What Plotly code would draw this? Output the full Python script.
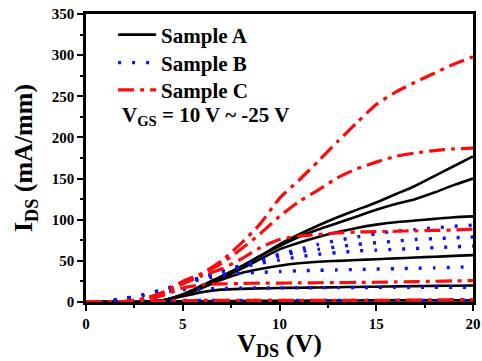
import plotly.graph_objects as go

# Drain voltage grid (V)
vds = list(range(0, 21))

# Sample A (black solid), one curve per gate voltage step
sample_a = [
    [0, 0, 0, 0.3, 2, 9, 20, 31, 43, 56, 70, 82, 93, 103, 112, 121, 131, 141, 153, 165, 177],
    [0, 0, 0, 0.3, 2, 9, 20, 31, 43, 56, 68, 79, 88, 96, 104, 112, 119, 125, 133, 142, 150],
    [0, 0, 0, 0.3, 2, 9, 19, 29, 40, 52, 64, 72, 79, 85, 90, 94, 97, 99, 101, 103, 104],
    [0, 0, 0, 0.3, 2, 8, 17, 27, 35, 40, 44, 47, 49, 50, 51, 52, 53, 54, 55, 56, 57],
    [0, 0, 0, 0.3, 2, 7, 12, 15, 16, 16.5, 17, 17.3, 17.6, 18, 18.3, 18.6, 19, 19.3, 19.6, 19.8, 20],
    [0, 0, 0, 0, 0.5, 1, 1, 1.2, 1.3, 1.4, 1.5, 1.6, 1.7, 1.8, 1.9, 2, 2, 2, 2, 2, 2],
]

# Sample B (blue dotted)
sample_b = [
    [0, 0.5, 4, 9, 15, 23, 30, 37, 44, 51, 58, 64, 70, 75, 79, 83, 86, 88, 90, 92, 93.5],
    [0, 0.5, 4, 9, 15, 23, 30, 37, 44, 50, 56, 61, 64, 67, 70, 72, 74, 76, 77, 78, 79],
    [0, 0.5, 4, 9, 15, 23, 30, 36, 42, 47, 51, 55, 58, 60, 62, 63, 64, 65, 66, 67, 68],
    [0, 0.5, 4, 9, 15, 22, 28, 32, 35, 36, 37, 38, 38.5, 39, 39.5, 40, 40.5, 41, 41.5, 42, 43],
    [0, 0.5, 4, 8, 12, 15, 16, 16.5, 17, 17, 17.2, 17.3, 17.4, 17.5, 17.6, 17.7, 17.8, 17.9, 18, 18, 18],
    [0, 0.3, 1, 1.5, 2, 2, 2, 2, 2, 2, 2, 2, 2, 2, 2, 2, 2, 2, 2, 2, 2],
]

# Sample C (red dash-dot)
sample_c = [
    [0, 0, 0.5, 4, 12, 25, 35, 50, 71, 95, 126, 148, 171, 195, 218, 240, 255, 267, 278, 289, 298],
    [0, 0, 0.5, 4, 12, 24, 34, 47, 64, 83, 104, 122, 136, 151, 162, 170, 177, 181, 184, 186, 187],
    [0, 0, 0.5, 4, 11, 22, 32, 40, 52, 66, 76, 80, 82, 84, 85, 85.5, 86, 86.5, 87, 87.5, 88.5],
    [0, 0, 0.5, 3, 8, 17, 21, 22, 22.5, 23, 23, 23.2, 23.4, 23.6, 23.8, 24, 24.4, 24.8, 25.2, 25.6, 26],
    [0, 0, 0, 0.5, 1, 1.5, 2, 2, 2, 2, 2, 2, 2, 2, 2, 2, 2.2, 2.4, 2.6, 2.8, 3],
]

series_names = ["Sample A", "Sample B", "Sample C"]
x_ticks = [0, 5, 10, 15, 20]
y_ticks = [0, 50, 100, 150, 200, 250, 300, 350]

SERIF = "Liberation Serif"
styles = [
    dict(color="black", width=2.6, dash="solid"),
    dict(color="#0a14f0", width=3.4, dash="3px,11px"),
    dict(color="#ff0a0a", width=3.2, dash="16px,6px,4px,6px"),
]
legend_ids = ["legend", "legend2", "legend3"]
legend_rows = [0.927, 0.83, 0.735]

fig = go.Figure()
for name, curves, st, lg in zip(series_names, [sample_a, sample_b, sample_c], styles, legend_ids):
    for i, ys in enumerate(curves):
        fig.add_trace(go.Scatter(
            x=vds, y=ys, mode="lines", name="<b>%s</b>" % name, legendgroup=name, legend=lg,
            showlegend=(i == 0), line=dict(shape="spline", smoothing=0.6, **st),
        ))

axis_common = dict(
    showline=True, linecolor="black", linewidth=2.6, mirror=True,
    ticks="outside", ticklen=6, tickwidth=2, tickcolor="black",
    showgrid=False, zeroline=False, automargin=False, ticklabeloverflow="allow",
    tickfont=dict(family=SERIF, size=15, color="black"),
)

fig.update_xaxes(
    range=[0, 20], tickvals=x_ticks, ticktext=["<b>%d</b>" % v for v in x_ticks],
    minor=dict(ticks="outside", ticklen=3.5, tickwidth=2, tickcolor="black", dtick=2.5, showgrid=False),
    title=dict(text="<b>V<sub>DS</sub> (V)</b>", font=dict(family=SERIF, size=26, color="black"), standoff=7),
    **axis_common,
)
fig.update_yaxes(
    range=[0, 350], tickvals=y_ticks, ticktext=["<b>%d</b>" % v for v in y_ticks],
    minor=dict(ticks="outside", ticklen=3.5, tickwidth=2, tickcolor="black", dtick=25, showgrid=False),
    title=dict(text="<b>I<sub>DS</sub> (mA/mm)</b>", font=dict(family=SERIF, size=26, color="black"), standoff=12),
    **axis_common,
)

fig.add_annotation(
    xref="paper", yref="paper", x=0.088, y=0.645, xanchor="left", yanchor="middle",
    text="<b>V<sub>GS</sub> = 10 V ~ -25 V</b>", showarrow=False,
    font=dict(family=SERIF, size=21, color="black"),
)

legend_font = dict(family=SERIF, size=21, color="black")
layout_legends = {}
for lg, yrow in zip(legend_ids, legend_rows):
    layout_legends[lg] = dict(x=0.07, y=yrow, xanchor="left", yanchor="middle",
                              bgcolor="rgba(0,0,0,0)", itemwidth=38, font=legend_font)

fig.update_layout(
    width=482, height=361,
    margin=dict(l=86, r=9, t=14, b=59),
    paper_bgcolor="white", plot_bgcolor="white",
    **layout_legends,
)

# remove the browser's default body margin so the figure fills the window
fig.write_html("out.html", config={"displayModeBar": False},
               post_script="document.body.style.margin='0px';")
